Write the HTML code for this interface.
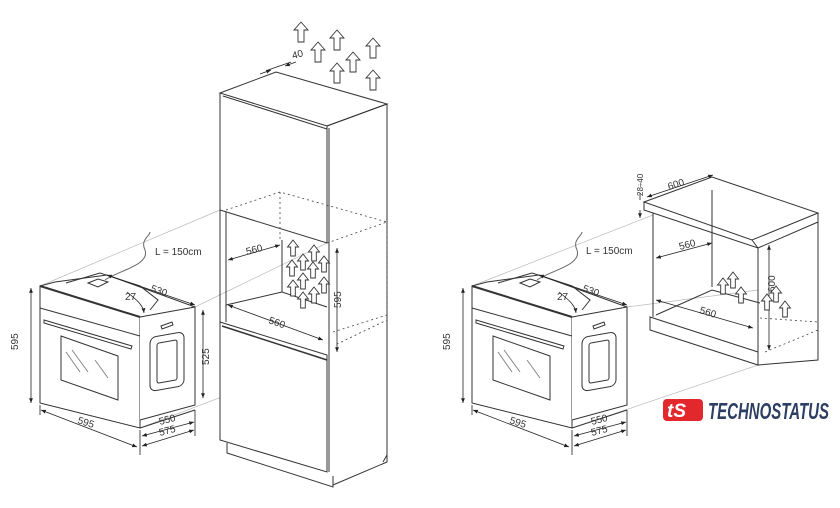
<!DOCTYPE html>
<html><head><style>html,body{margin:0;padding:0;background:#fff}svg{display:block}</style></head>
<body>
<svg width="840" height="508" viewBox="0 0 840 508" xmlns="http://www.w3.org/2000/svg" font-family="Liberation Sans, sans-serif">
<defs>
<marker id="a" viewBox="0 0 10 10" refX="10" refY="5" markerWidth="6" markerHeight="6" orient="auto-start-reverse"><path d="M0,1 L10,5 L0,9z" fill="#222"/></marker>
<path id="up" d="M0,-10 L7,-2 L3,-2 L3,10 L-3,10 L-3,-2 L-7,-2z" fill="#fff" stroke="#333" stroke-width="0.9"/>
<path id="up2" d="M0,-8 L5.5,-1 L2.3,-1 L2.3,8 L-2.3,8 L-2.3,-1 L-5.5,-1z" fill="#fff" stroke="#333" stroke-width="0.9"/>
<g id="oven" stroke="#333" stroke-width="1" fill="none">
 <path d="M40,286 L140,317 L140,428 L40,403z" fill="#fff"/>
 <path d="M40,286 L140,317" stroke-width="2"/>
 <path d="M40,308 L140,336"/>
 <path d="M44,320 L132,346 L131,349 L44,323z"/>
 <path d="M61,336 L118,356 L118,400 L61,380z"/>
 <path d="M66,352 L80,372 M72,350 L88,372 M95,360 L108,378" stroke="#888"/>
 <path d="M140,317 L195,307 L195,405 L140,420" fill="#fff"/>
 <path d="M140,428 L195,410"/>
 <path d="M40,286 L55,282 L107,275 L195,307"/>
 <path d="M66,283 L100,273 L140,286 L158,300 L150,310" />
 <path d="M88,283 L98,279 L108,282 L98,287z"/>
 <rect x="150" y="336" width="34" height="54" rx="6" transform="skewY(-10) translate(0,28)" />
 <rect x="157" y="343" width="20" height="40" rx="2" transform="skewY(-10) translate(0,28)" />
 <path d="M161,326 L172,322 L173,325 L162,329z"/>
 <path d="M105,280 C120,270 150,265 145,250 C140,240 150,236 150,232" stroke="#666"/>
 <g stroke="#222" stroke-width="0.8">
 <path d="M31,288 L31,403" marker-start="url(#a)" marker-end="url(#a)"/>
 <path d="M41,410 L137,447" marker-start="url(#a)" marker-end="url(#a)"/>
 <path d="M142,436 L194,422" marker-start="url(#a)" marker-end="url(#a)"/>
 <path d="M142,446 L194,430" marker-start="url(#a)" marker-end="url(#a)"/>
 <path d="M107,275 L195,305" marker-start="url(#a)" marker-end="url(#a)"/>
 <path d="M127,292 C137,300 143,305 144,313" marker-end="url(#a)"/>
 <path d="M40,405 L40,415 M140,430 L140,455 M195,410 L195,436"/>
 </g>
</g>
</defs>
<g stroke="#bbb" stroke-width="0.7" fill="none">
<path d="M40,286 L220,210 M140,428 L327,357 M195,307 L327,243 M472,286 L653,215 M572,428 L758,365 M627,307 L758,290"/>
</g>
<use href="#oven"/>
<use href="#oven" x="432"/>
<g font-size="10" fill="#333">
<text x="155" y="255">L = 150cm</text>
<text x="586" y="254">L = 150cm</text>
<text transform="translate(18,350) rotate(-90)">595</text>
<text transform="translate(450,350) rotate(-90)">595</text>
<text x="150" y="291" transform="rotate(20 150 291)">530</text>
<text x="582" y="291" transform="rotate(20 582 291)">530</text>
<text x="125" y="300">27</text><text x="557" y="300">27</text>
<text x="77" y="423" transform="rotate(18 77 423)">595</text>
<text x="509" y="423" transform="rotate(18 509 423)">595</text>
<text x="160" y="425" transform="rotate(-15 160 425)">550</text>
<text x="160" y="436" transform="rotate(-15 160 436)">575</text>
<text x="592" y="425" transform="rotate(-15 592 425)">550</text>
<text x="592" y="436" transform="rotate(-15 592 436)">575</text>
<text transform="translate(209,365) rotate(-90)">525</text>
</g>
<path d="M203,310 L203,398" stroke="#222" stroke-width="0.8" marker-start="url(#a)" marker-end="url(#a)"/>

<g stroke="#333" stroke-width="1" fill="none">
<path d="M220,93 L276,72 L387,104 L327,126z" fill="#fff"/>
<path d="M223,96 L327,129"/>
<path d="M327,126 L387,104 L387,462 L333,485"/>
<path d="M220,93 L220,210 L327,243 L327,126 M329,128 L329,472"/>
<path d="M220,210 L220,440 M226,212 L226,322"/>
<path d="M226,305 L282,292 L327,307"/>
<path d="M282,240 L282,292"/>
<path d="M220,322 L327,355 L327,472 L220,440z" fill="#fff"/>
<path d="M222,326 L327,360" stroke-width="1.5"/>
<path d="M227,443 L227,453 L333,487 L333,476"/>
<path d="M387,455 L383,462"/>
</g>
<g stroke="#444" stroke-width="0.8" fill="none" stroke-dasharray="2,3">
<path d="M226,210 L280,192 L387,222 L387,320 L335,345"/>
<path d="M280,192 L280,240 M327,243 L387,222 M333,332 L387,315"/>
</g>
<g stroke="#222" stroke-width="0.8" fill="none">
<path d="M228,260 L280,245" marker-start="url(#a)" marker-end="url(#a)"/>
<path d="M228,305 L323,340" marker-start="url(#a)" marker-end="url(#a)"/>
<path d="M337,248 L337,352" marker-start="url(#a)" marker-end="url(#a)"/>
<path d="M268,70 L291,62" />
<path d="M260,74 L271,70" marker-end="url(#a)"/>
<path d="M296,62 L285,66" marker-end="url(#a)"/>
</g>
<g font-size="10" fill="#333">
<text x="247" y="255" transform="rotate(-15 247 255)">560</text>
<text x="268" y="323" transform="rotate(19 268 323)">560</text>
<text transform="translate(341,308) rotate(-90)">595</text>
<text x="293" y="59" transform="rotate(-15 293 59)">40</text>
</g>
<use href="#up" x="301" y="32"/><use href="#up" x="337" y="40"/><use href="#up" x="373" y="48"/>
<use href="#up" x="318" y="52"/><use href="#up" x="353" y="62"/><use href="#up" x="337" y="73"/><use href="#up" x="373" y="80"/>
<use href="#up2" x="293" y="248"/><use href="#up2" x="303" y="262"/><use href="#up2" x="314" y="253"/>
<use href="#up2" x="292" y="268"/><use href="#up2" x="313" y="270"/><use href="#up2" x="324" y="264"/>
<use href="#up2" x="293" y="288"/><use href="#up2" x="303" y="281"/><use href="#up2" x="314" y="295"/>
<use href="#up2" x="324" y="285"/><use href="#up2" x="303" y="300"/>

<g stroke="#333" stroke-width="1" fill="none">
<path d="M644,202 L712,177 L818,213 L752,240z" fill="#fff"/>
<path d="M644,202 L644,210 L758,248 L818,222 L818,213 M752,240 L758,248"/>
<path d="M653,213 L653,317 M758,248 L758,365 M818,222 L818,360 L758,365"/>
<path d="M712,190 L712,287 M656,315 L712,290 L760,303"/>
<path d="M650,317 L758,352 L758,365 L650,330z"/>
</g>
<g stroke="#444" stroke-width="0.8" fill="none" stroke-dasharray="2,3">
<path d="M760,318 L818,322 M765,352 L818,330"/>
</g>
<g stroke="#222" stroke-width="0.8" fill="none">
<path d="M656,258 L712,243" marker-start="url(#a)" marker-end="url(#a)"/>
<path d="M656,300 L753,328" marker-start="url(#a)" marker-end="url(#a)"/>
<path d="M769,245 L769,350" marker-start="url(#a)" marker-end="url(#a)"/>
<path d="M647,197 L713,175" marker-start="url(#a)" marker-end="url(#a)"/>
<path d="M640,193 L640,200 M640,210 L640,218" marker-end="url(#a)"/>
</g>
<g font-size="10" fill="#333">
<text x="680" y="250" transform="rotate(-15 680 250)">560</text>
<text x="699" y="313" transform="rotate(17 699 313)">560</text>
<text transform="translate(775,292) rotate(-90)">600</text>
<text x="669" y="190" transform="rotate(-18 669 190)">600</text>
<text transform="translate(643,196) rotate(-90)" font-size="8">28÷40</text>
</g>
<use href="#up2" x="723" y="286"/><use href="#up2" x="733" y="280"/><use href="#up2" x="741" y="295"/>
<use href="#up2" x="767" y="302"/><use href="#up2" x="776" y="294"/><use href="#up2" x="785" y="309"/>

<rect x="663" y="399" width="40" height="22" rx="4" fill="#e2282c"/>
<text x="667" y="417" font-size="19" font-weight="bold" font-style="italic" fill="#fff">tS</text>
<text x="708" y="419" font-size="23" font-weight="bold" font-style="italic" fill="#2d3e63" textLength="121" lengthAdjust="spacingAndGlyphs">TECHNOSTATUS</text>
</svg>
</body></html>
